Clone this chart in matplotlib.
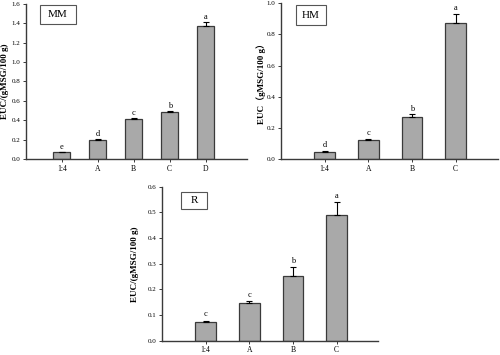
import numpy as np
import matplotlib
matplotlib.use("Agg")
from matplotlib import pyplot as plt
from matplotlib.patches import Rectangle

plt.rcParams["font.family"] = ["Liberation Serif", "Noto Sans CJK SC"]

# MM panel
mm_labels = ["1:4", "A", "B", "C", "D"]
mm_values = [0.07, 0.195, 0.41, 0.48, 1.375]
mm_errors = [0.005, 0.015, 0.01, 0.012, 0.04]
mm_letters = ["e", "d", "c", "b", "a"]

# HM panel
hm_labels = ["1:4", "A", "B", "C"]
hm_values = [0.048, 0.125, 0.268, 0.875]
hm_errors = [0.003, 0.006, 0.018, 0.055]
hm_letters = ["d", "c", "b", "a"]

# R panel
r_labels = ["1:4", "A", "B", "C"]
r_values = [0.075, 0.148, 0.252, 0.49]
r_errors = [0.004, 0.008, 0.034, 0.05]
r_letters = ["c", "c", "b", "a"]

BAR_COLOR = "#a9a9a9"
EDGE = "#3a3a3a"


def draw_panel(ax, labels, values, errors, letters, ymax, ystep, name,
               ylabel, label_x, box, xmax, letter_gap):
    x = np.arange(1, len(labels) + 1)
    ax.bar(x, values, width=0.47, color=BAR_COLOR, edgecolor=EDGE, linewidth=0.9, zorder=2)
    ax.errorbar(x, values, yerr=[np.zeros(len(errors)), errors], fmt="none",
                ecolor="black", elinewidth=0.8, capsize=2.2, capthick=0.8, zorder=3)
    for xi, v, e, t in zip(x, values, errors, letters):
        ax.text(xi, v + e + letter_gap, t, ha="center", va="bottom", fontsize=6)

    ax.set_xlim(0, xmax)
    ax.set_ylim(0, ymax)
    ax.set_xticks(x)
    ax.set_xticklabels(labels, fontsize=5.5)
    ticks = np.arange(0, ymax + ystep / 2, ystep)
    ax.set_yticks(ticks)
    ax.set_yticklabels(["%.1f" % t for t in ticks], fontsize=5)
    ax.set_ylabel(ylabel, fontsize=6.5, fontweight="bold")
    ax.yaxis.set_label_coords(label_x, 0.5)

    for s in ["top", "right"]:
        ax.spines[s].set_visible(False)
    for s in ["left", "bottom"]:
        ax.spines[s].set_color(EDGE)
        ax.spines[s].set_linewidth(1.0)
    ax.tick_params(axis="both", direction="out", length=2.5, width=0.7, pad=1.5, colors=EDGE,
                   labelcolor="black")

    x0, x1, y0, y1 = box
    ax.add_patch(Rectangle((x0, y0), x1 - x0, y1 - y0, transform=ax.transAxes,
                           facecolor="white", edgecolor="#555555", linewidth=0.8,
                           clip_on=False, zorder=4))
    ax.text((x0 + x1) / 2, (y0 + y1) / 2, name, transform=ax.transAxes,
            ha="center", va="center", fontsize=8, zorder=5)


fig = plt.figure(figsize=(5.0, 3.55), dpi=100)

ax1 = fig.add_axes([0.052, 0.552, 0.442, 0.437])
draw_panel(ax1, mm_labels, mm_values, mm_errors, mm_letters, 1.6, 0.2, "MM",
           "EUC/(gMSG/100 g)", -0.077, (0.063, 0.226, 0.871, 0.994), 6.15, 0.01)

ax2 = fig.add_axes([0.562, 0.552, 0.434, 0.439])
draw_panel(ax2, hm_labels, hm_values, hm_errors, hm_letters, 1.0, 0.2, "HM",
           "EUC（gMSG/100 g）", -0.069, (0.069, 0.207, 0.859, 0.987), 4.97, 0.012)

ax3 = fig.add_axes([0.324, 0.04, 0.432, 0.434])
draw_panel(ax3, r_labels, r_values, r_errors, r_letters, 0.6, 0.1, "R",
           "EUC/(gMSG/100 g)", -0.106, (0.088, 0.208, 0.853, 0.968), 4.95, 0.008)

fig.savefig("out.png", dpi=100, facecolor="white")
